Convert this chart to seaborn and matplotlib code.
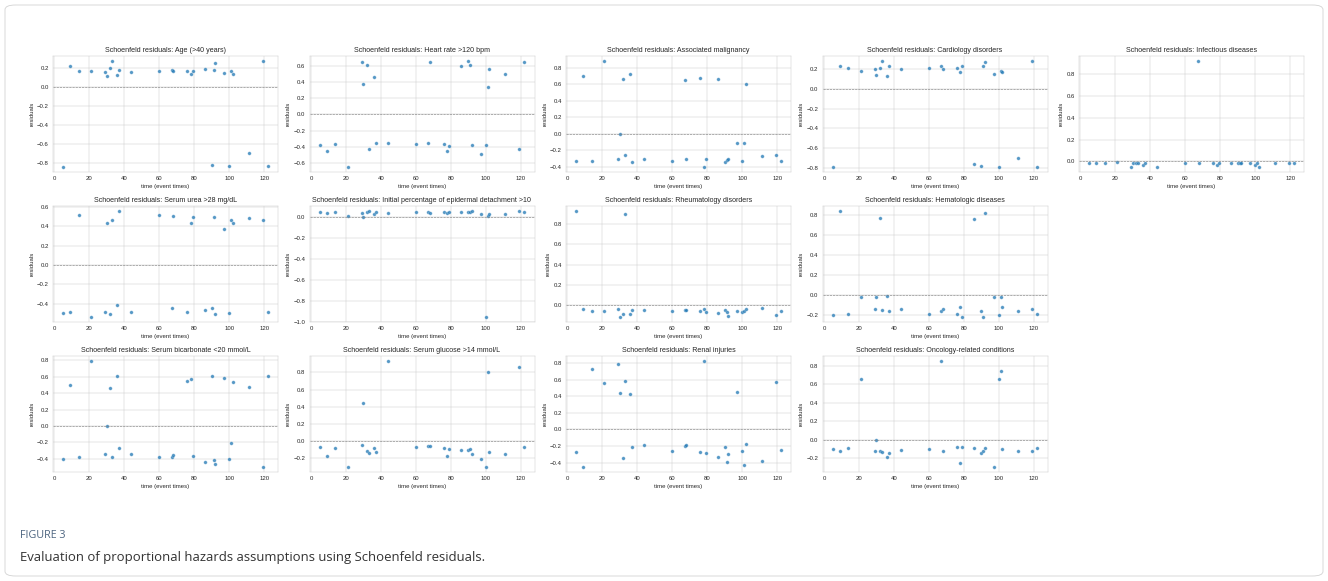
import numpy as np
import pandas as pd
import seaborn as sns
import matplotlib.pyplot as plt
from matplotlib.patches import FancyBboxPatch

# Data
event_times = [5, 9, 14, 21, 29, 30, 32, 33, 36, 37, 44, 60, 67, 68,
               76, 78, 79, 86, 90, 91, 92, 97, 100, 101, 102, 111, 119, 122]

age = [-0.84, 0.225, 0.17, 0.165, 0.16, 0.11, 0.20, 0.27, 0.13, 0.18, 0.16, 0.17, 0.18, 0.165,
       0.17, 0.14, 0.17, 0.19, -0.825, 0.175, 0.25, 0.15, -0.835, 0.165, 0.14, -0.70, 0.27, -0.835]
heart_rate = [-0.385, -0.46, -0.37, -0.65, 0.65, 0.375, 0.615, -0.435, 0.46, -0.355, -0.36, -0.37, -0.355, 0.65,
              -0.37, -0.45, -0.39, 0.60, 0.66, 0.61, -0.385, -0.49, -0.385, 0.34, 0.56, 0.505, -0.435, 0.65]
malignancy = [-0.327, 0.70, -0.327, 0.88, -0.306, 0.0, 0.67, -0.257, 0.72, -0.343, -0.306, -0.327, 0.657, -0.306,
              0.673, -0.40, -0.31, 0.665, -0.339, -0.314, -0.306, -0.11, -0.327, -0.118, 0.60, -0.27, -0.257, -0.327]
cardiology = [-0.79, 0.234, 0.214, 0.18, 0.203, 0.142, 0.214, 0.28, 0.132, 0.227, 0.203, 0.214, 0.227, 0.203,
              0.214, 0.173, 0.227, -0.76, -0.78, 0.227, 0.268, 0.153, -0.79, 0.18, 0.173, -0.70, 0.28, -0.79]
infectious = [-0.02, -0.02, -0.02, -0.01, -0.05, -0.02, -0.02, -0.02, -0.03, -0.02, -0.05, -0.02, 0.92, -0.02,
              -0.02, -0.03, -0.02, -0.02, -0.02, -0.02, -0.02, -0.02, -0.03, -0.02, -0.05, -0.02, -0.02, -0.02]
urea = [-0.497, -0.483, 0.514, -0.534, -0.486, 0.438, -0.507, 0.466, -0.414, 0.555, -0.486, 0.514, -0.445, 0.51,
        -0.486, 0.434, 0.493, -0.469, -0.445, 0.497, -0.503, 0.372, -0.497, 0.469, 0.434, 0.483, 0.466, -0.486]
detachment = [0.052, 0.041, 0.052, 0.014, 0.045, 0.003, 0.055, 0.059, 0.031, 0.048, 0.045, 0.048, 0.048, 0.045,
              0.052, 0.038, 0.048, 0.052, 0.052, 0.055, 0.059, 0.034, -0.95, 0.017, 0.034, 0.031, 0.059, 0.052]
rheumatology = [0.93, -0.046, -0.066, -0.066, -0.046, -0.118, -0.089, 0.90, -0.089, -0.056, -0.049, -0.066, -0.052, -0.049,
                -0.066, -0.039, -0.075, -0.085, -0.052, -0.072, -0.108, -0.066, -0.069, -0.066, -0.039, -0.036, -0.102, -0.066]
hematologic = [-0.193, 0.836, -0.184, -0.016, -0.138, -0.016, 0.767, -0.144, -0.01, -0.154, -0.138, -0.184, -0.154, -0.138,
               -0.184, -0.115, -0.213, 0.757, -0.154, -0.213, 0.816, -0.013, -0.193, -0.016, -0.115, -0.16, -0.141, -0.184]
bicarbonate = [-0.40, 0.50, -0.38, 0.79, -0.35, 0.0, 0.46, -0.38, 0.61, -0.27, -0.35, -0.38, -0.38, -0.36,
               0.55, 0.57, -0.37, -0.44, 0.61, -0.42, -0.47, 0.58, -0.40, -0.21, 0.54, 0.47, -0.50, 0.61]
glucose = [-0.07, -0.17, -0.08, -0.30, -0.05, 0.44, -0.12, -0.14, -0.08, -0.13, 0.93, -0.07, -0.06, -0.06,
           -0.08, -0.18, -0.09, -0.10, -0.10, -0.09, -0.15, -0.21, -0.30, 0.80, -0.13, -0.15, 0.86, -0.07]
renal = [-0.27, -0.45, 0.73, 0.56, 0.79, 0.44, -0.34, 0.58, 0.43, -0.21, -0.19, -0.26, -0.20, -0.19,
         -0.27, 0.82, -0.29, -0.33, -0.21, -0.39, -0.30, 0.45, -0.26, -0.43, -0.18, -0.38, 0.57, -0.25]
oncology = [-0.10, -0.12, -0.09, 0.66, -0.12, 0.0, -0.12, -0.13, -0.19, -0.14, -0.11, -0.10, 0.85, -0.12,
            -0.08, -0.25, -0.08, -0.09, -0.14, -0.12, -0.09, -0.29, 0.66, 0.75, -0.10, -0.12, -0.12, -0.09]

panel_names = ["Age (>40 years)", "Heart rate >120 bpm", "Associated malignancy",
               "Cardiology disorders", "Infectious diseases",
               "Serum urea >28 mg/dL", "Initial percentage of epidermal detachment >10",
               "Rheumatology disorders", "Hematologic diseases",
               "Serum bicarbonate <20 mmol/L", "Serum glucose >14 mmol/L",
               "Renal injuries", "Oncology-related conditions"]
panel_values = [age, heart_rate, malignancy, cardiology, infectious,
                urea, detachment, rheumatology, hematologic,
                bicarbonate, glucose, renal, oncology]
panel_slots = [(0, 0), (0, 1), (0, 2), (0, 3), (0, 4),
               (1, 0), (1, 1), (1, 2), (1, 3),
               (2, 0), (2, 1), (2, 2), (2, 3)]

# Plot
sns.set_style("whitegrid")
plt.rcParams['font.family'] = ['Liberation Sans', 'DejaVu Sans']

DPI = 43
W, H = 1328, 581
fig, axes = plt.subplots(3, 5, figsize=(W / DPI, H / DPI), dpi=DPI)
fig.subplots_adjust(left=53 / W, right=1304 / W, top=1 - 56 / H, bottom=1 - 472 / H,
                    wspace=0.14, hspace=0.293)

for name, vals, (r, c) in zip(panel_names, panel_values, panel_slots):
    ax = axes[r, c]
    df = pd.DataFrame({'time': event_times, 'residuals': vals})
    sns.scatterplot(data=df, x='time', y='residuals', ax=ax, color='#1f77b4', alpha=0.75)
    ax.axhline(0, color='gray', linestyle='--', linewidth=1)
    ax.set_title(f'Schoenfeld residuals: {name}')
    ax.set_xlabel('time (event times)')
    ax.set_ylabel('residuals')
    ax.set_xticks(range(0, 121, 20))

axes[1, 4].remove()
axes[2, 4].remove()

# frame + caption
frame = FancyBboxPatch((5 / W, 5 / H), 1 - 10 / W, 1 - 10 / H, transform=fig.transFigure,
                       boxstyle="round,pad=0,rounding_size=0.008", facecolor='none',
                       edgecolor='#d5d5d5', linewidth=1.5)
fig.patches.append(frame)
fig.text(20 / W, 1 - 535 / H, 'FIGURE 3', fontsize=18, color='#4d6580', va='center',
         family=['Open Sans', 'DejaVu Sans'])
fig.text(20 / W, 1 - 557 / H, 'Evaluation of proportional hazards assumptions using Schoenfeld residuals.',
         fontsize=22, color='#333333', va='center', family=['Open Sans', 'DejaVu Sans'])

fig.savefig('out.png', dpi=DPI)
